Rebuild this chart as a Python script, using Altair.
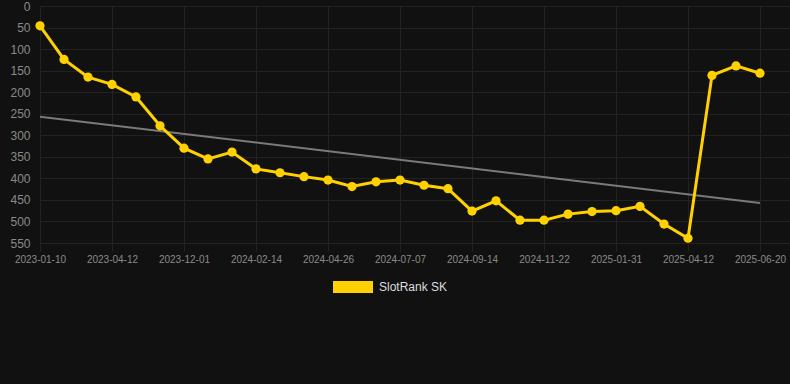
import json
import altair as alt
import pandas as pd

series_name = "SlotRank SK"
ranks = [46, 124, 165, 182, 211, 278, 330, 355, 339, 378, 387, 396, 404, 419, 408,
         404, 416, 424, 476, 452, 497, 497, 483, 477, 475, 465, 506, 539, 161, 139, 156]
tick_labels = ["2023-01-10", "2023-04-12", "2023-12-01", "2024-02-14", "2024-04-26",
               "2024-07-07", "2024-09-14", "2024-11-22", "2025-01-31", "2025-04-12",
               "2025-06-20"]
trend_start = 257
trend_end = 457
y_ticks = list(range(0, 551, 50))

df = pd.DataFrame({"idx": list(range(len(ranks))), "rank": ranks, "series": series_name})
trend = pd.DataFrame({"idx": [0, len(ranks) - 1], "rank": [trend_start, trend_end]})

label_expr = json.dumps(tick_labels).replace('"', "'") + "[round(datum.value/3)]"

GRID = "#222222"
GOLD = "#FFD100"

x = alt.X("idx:Q",
          scale=alt.Scale(domain=[0, 31.25], nice=False, zero=False),
          axis=alt.Axis(values=list(range(0, 31, 3)), labelExpr=label_expr, title=None,
                        grid=True, gridColor=GRID, domain=False, ticks=True, tickColor=GRID,
                        tickSize=8, labelPadding=3, labelColor="#8a8a8a", labelFontSize=10,
                        labelFont="Liberation Sans", labelOverlap=False, labelFlush=False,
                        labelBound=False))
y = alt.Y("rank:Q",
          scale=alt.Scale(domain=[0, 550], reverse=True, nice=False, zero=False),
          axis=alt.Axis(values=y_ticks, title=None, grid=True, gridColor=GRID, domain=False,
                        ticks=False, labelPadding=10, labelColor="#8a8a8a", labelFontSize=12,
                        labelFont="Liberation Sans", labelFlush=False, labelOverlap=False))

trend_layer = alt.Chart(trend).mark_line(color="#7a7a7a", strokeWidth=2).encode(x=x, y=y)

color = alt.Color("series:N",
                  scale=alt.Scale(domain=[series_name], range=[GOLD]),
                  legend=alt.Legend(title=None, orient="none", legendX=293, legendY=261,
                                    symbolType="M-1,-0.3H1V0.3H-1Z", symbolSize=1600,
                                    symbolStrokeWidth=0, symbolFillColor=GOLD,
                                    labelColor="#dddddd", labelFontSize=12,
                                    labelFont="Liberation Sans", labelOffset=6, padding=0))

line_layer = alt.Chart(df).mark_line(strokeWidth=3).encode(x=x, y=y, color=color)
point_layer = alt.Chart(df).mark_circle(size=85, opacity=1).encode(x=x, y=y, color=color)

chart = alt.layer(trend_layer, line_layer, point_layer).properties(
    width=750, height=237,
    padding={"left": 40, "top": 6, "right": 0, "bottom": 141},
    autosize=alt.AutoSizeParams(type="none"),
    background="#111111",
).configure_view(stroke=None)

chart.save("out.html", embed_options={"renderer": "svg", "actions": False})
